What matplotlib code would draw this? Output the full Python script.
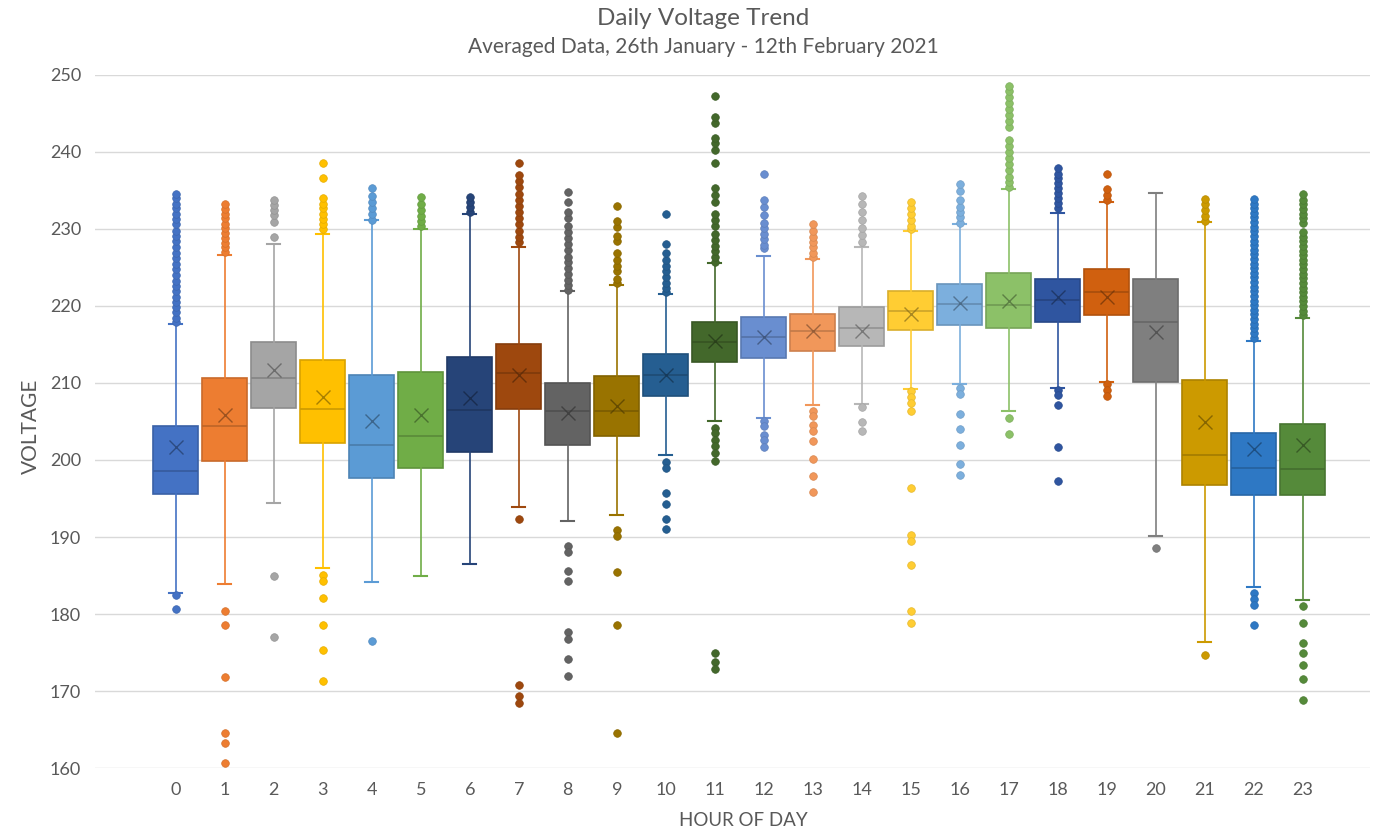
import matplotlib.pyplot as plt
import matplotlib.colors as mcolors

# Box statistics (volts)
hours = list(range(24))
q1 = [195.6, 199.9, 206.8, 202.2, 197.7, 198.9, 201.0, 206.6, 201.9, 203.1, 208.3, 212.7,
      213.3, 214.2, 214.8, 216.9, 217.5, 217.1, 217.9, 218.8, 210.1, 196.8, 195.5, 195.5]
medians = [198.6, 204.4, 210.6, 206.6, 202.0, 203.1, 206.5, 211.3, 206.3, 206.4, 211.0, 215.3,
           216.0, 216.8, 217.1, 219.3, 220.2, 220.1, 220.8, 221.8, 217.9, 200.6, 199.0, 198.8]
q3 = [204.4, 210.6, 215.3, 213.0, 211.1, 211.4, 213.4, 215.1, 210.0, 210.9, 213.7, 217.9,
      218.6, 219.0, 219.9, 222.0, 222.8, 224.3, 223.5, 224.8, 223.5, 210.4, 203.5, 204.7]
whisker_low = [182.7, 183.9, 194.4, 186.0, 184.2, 184.9, 186.5, 193.9, 192.1, 192.9, 200.6, 205.0,
               205.4, 207.1, 207.3, 209.2, 209.9, 206.4, 209.4, 210.1, 190.1, 176.4, 183.5, 181.8]
whisker_high = [217.7, 226.6, 228.1, 229.4, 231.2, 230.0, 232.0, 227.6, 222.0, 222.7, 221.5, 225.6,
                226.5, 226.1, 227.6, 229.8, 230.6, 235.2, 232.1, 233.5, 234.7, 230.9, 215.5, 218.4]
means = [201.7, 205.9, 211.7, 208.2, 205.0, 205.8, 208.0, 211.1, 206.1, 207.0, 211.1, 215.4,
         216.0, 216.8, 216.8, 219.0, 220.4, 220.6, 221.2, 221.2, 216.6, 204.9, 201.4, 201.9]

high_outliers = [
    [217.9, 218.5, 219.2, 219.9, 220.5, 221.2, 221.9, 222.6, 223.3, 224.0, 224.8, 225.5, 226.2,
     226.9, 227.6, 228.4, 229.1, 229.8, 230.6, 231.3, 232.0, 232.7, 233.3, 234.0, 234.6],
    [227.0, 227.6, 228.2, 228.8, 229.5, 230.1, 230.7, 231.4, 232.0, 232.6, 233.2],
    [228.9, 230.9, 231.8, 232.5, 233.1, 233.8],
    [230.0, 230.6, 231.3, 232.0, 232.7, 233.3, 234.0, 236.6, 238.6],
    [231.2, 231.9, 232.7, 233.5, 234.3, 235.3],
    [230.4, 231.0, 231.7, 232.5, 233.2, 234.2],
    [232.2, 232.9, 233.5, 234.2],
    [228.3, 229.0, 229.8, 230.6, 231.4, 232.2, 233.0, 233.8, 234.6, 235.4, 236.2, 237.0, 238.6],
    [222.1, 222.7, 223.4, 224.2, 224.9, 225.7, 226.4, 227.3, 228.0, 228.8, 229.6, 230.4, 231.4,
     232.2, 233.5, 234.8],
    [223.0, 223.5, 224.5, 225.2, 226.0, 226.9, 228.4, 229.1, 230.2, 231.0, 233.0],
    [221.8, 222.3, 223.0, 223.7, 224.5, 225.2, 226.0, 226.9, 228.1, 231.9],
    [225.7, 226.4, 227.1, 227.8, 228.6, 229.3, 230.4, 231.2, 231.9, 233.5, 234.4, 235.3, 238.6,
     240.3, 241.1, 241.8, 243.7, 244.6, 247.3],
    [227.5, 227.9, 228.7, 229.4, 230.1, 230.8, 231.8, 232.9, 233.8, 237.1],
    [226.3, 226.9, 227.6, 228.3, 229.0, 229.8, 230.6],
    [228.3, 229.2, 230.1, 231.2, 232.2, 233.2, 234.3],
    [230.0, 230.4, 231.2, 231.9, 232.7, 233.5],
    [230.8, 231.5, 232.2, 232.9, 233.8, 234.9, 235.9],
    [235.4, 236.1, 236.8, 237.7, 238.5, 239.2, 240.0, 240.8, 241.6, 243.3, 244.0, 244.8, 245.6,
     246.3, 247.1, 247.9, 248.6],
    [232.7, 233.4, 234.0, 234.7, 235.3, 236.0, 236.6, 237.2, 237.9],
    [233.8, 234.4, 235.2, 237.1],
    [],
    [231.0, 231.7, 232.5, 233.2, 233.9],
    [215.9, 216.5, 217.1, 217.7, 218.3, 218.9, 219.5, 220.1, 220.7, 221.3, 221.9, 222.5, 223.1,
     223.7, 224.3, 224.9, 225.5, 226.1, 226.7, 227.3, 227.9, 228.5, 229.1, 229.7, 230.3, 230.9,
     231.5, 232.1, 232.7, 233.3, 233.9],
    [218.8, 219.4, 220.0, 220.6, 221.2, 221.8, 222.4, 223.0, 223.6, 224.2, 224.8, 225.4, 226.0,
     226.6, 227.2, 227.8, 228.4, 229.0, 229.6, 230.8, 231.4, 232.0, 232.6, 233.2, 233.8, 234.5],
]
low_outliers = [
    [182.5, 180.6],
    [180.4, 178.6, 171.8, 164.5, 163.3, 160.6],
    [185.0, 177.0],
    [185.1, 184.3, 182.1, 178.6, 175.3, 171.3],
    [176.5],
    [],
    [],
    [192.3, 170.8, 169.4, 168.5],
    [188.8, 188.1, 185.6, 184.3, 177.6, 176.8, 174.2, 172.0],
    [190.9, 190.1, 185.4, 178.6, 164.6],
    [199.8, 198.9, 195.7, 194.3, 192.3, 191.0],
    [204.2, 203.5, 202.6, 201.8, 200.9, 199.9, 175.0, 173.8, 172.8],
    [205.1, 204.4, 203.3, 202.6, 201.7],
    [206.4, 205.7, 204.5, 203.8, 202.5, 200.1, 197.9, 195.8],
    [206.9, 204.9, 203.8],
    [209.0, 208.2, 207.4, 206.4, 196.3, 190.3, 189.5, 186.4, 180.4, 178.8],
    [209.4, 208.6, 206.0, 204.0, 202.0, 199.5, 198.0],
    [205.4, 203.4],
    [209.1, 208.4, 207.1, 201.7, 197.3],
    [209.9, 209.1, 208.3],
    [188.6],
    [174.7],
    [182.7, 182.0, 181.2, 178.6],
    [181.0, 178.8, 176.2, 175.0, 173.4, 171.6, 168.8],
]

colors = ['#4472C4', '#ED7D31', '#A5A5A5', '#FFC000', '#5B9BD5', '#70AD47',
          '#264478', '#9E480E', '#636363', '#997300', '#255E91', '#43682B',
          '#698ED0', '#F1975A', '#B7B7B7', '#FFCD33', '#7CAFDD', '#8CC168',
          '#2F55A0', '#D0600F', '#7F7F7F', '#CC9A00', '#2E78C4', '#558A3A']


def darker(c, f=0.8):
    r, g, b = mcolors.to_rgb(c)
    return (r * f, g * f, b * f)


stats = []
for i in hours:
    stats.append(dict(q1=q1[i], med=medians[i], q3=q3[i], whislo=whisker_low[i],
                      whishi=whisker_high[i], mean=means[i],
                      fliers=low_outliers[i] + high_outliers[i], label=str(i)))

fig = plt.figure(figsize=(13.85, 8.32), dpi=100)
ax = fig.add_axes([0.0686, 0.0769, 0.9204, 0.833])

bp = ax.bxp(stats, positions=hours, widths=0.92, capwidths=0.26, showmeans=True,
            patch_artist=True, zorder=3)

for i, c in enumerate(colors):
    edge = darker(c, 0.85)
    bp['boxes'][i].set_facecolor(c)
    bp['boxes'][i].set_edgecolor(edge)
    bp['boxes'][i].set_linewidth(1.2)
    bp['medians'][i].set_color(darker(c, 0.8))
    bp['medians'][i].set_linewidth(1.2)
    for w in bp['whiskers'][2 * i:2 * i + 2]:
        w.set_color(c)
        w.set_linewidth(1.2)
    for cp in bp['caps'][2 * i:2 * i + 2]:
        cp.set_color(c)
        cp.set_linewidth(1.5)
    fl = bp['fliers'][i]
    fl.set_marker('o')
    fl.set_markerfacecolor(c)
    fl.set_markeredgecolor(darker(c, 0.9))
    fl.set_markeredgewidth(0.5)
    fl.set_markersize(5.5)
    mn = bp['means'][i]
    mn.set_marker('x')
    mn.set_markeredgecolor(darker(c, 0.55))
    mn.set_alpha(0.75)
    mn.set_markersize(10)
    mn.set_markeredgewidth(1.0)

ax.set_xlim(-1.65, 24.37)
ax.set_ylim(160, 250)
ax.set_yticks(range(160, 251, 10))
ax.set_xticks(hours)
ax.set_xticklabels([str(h) for h in hours])
ax.grid(axis='y', color='#D9D9D9', linewidth=1)
ax.set_axisbelow(True)
for s in ax.spines.values():
    s.set_visible(False)
ax.tick_params(length=0, labelsize=13, labelcolor='#595959', pad=10)
for lab in ax.get_xticklabels() + ax.get_yticklabels():
    lab.set_family('Lato')

fig.text(0.508, 0.978, 'Daily Voltage Trend', ha='center', va='center',
         fontsize=17.5, color='#595959', family='Lato')
fig.text(0.508, 0.944, 'Averaged Data, 26th January - 12th February 2021', ha='center',
         va='center', fontsize=15, color='#595959', family='Lato')
fig.text(0.537, 0.0144, 'HOUR OF DAY', ha='center', va='center', fontsize=13.5,
         color='#595959', family='Lato')
fig.text(0.022, 0.488, 'VOLTAGE', ha='center', va='center', rotation=90, fontsize=15,
         color='#595959', family='Lato')

fig.savefig('out.png', dpi=100)
